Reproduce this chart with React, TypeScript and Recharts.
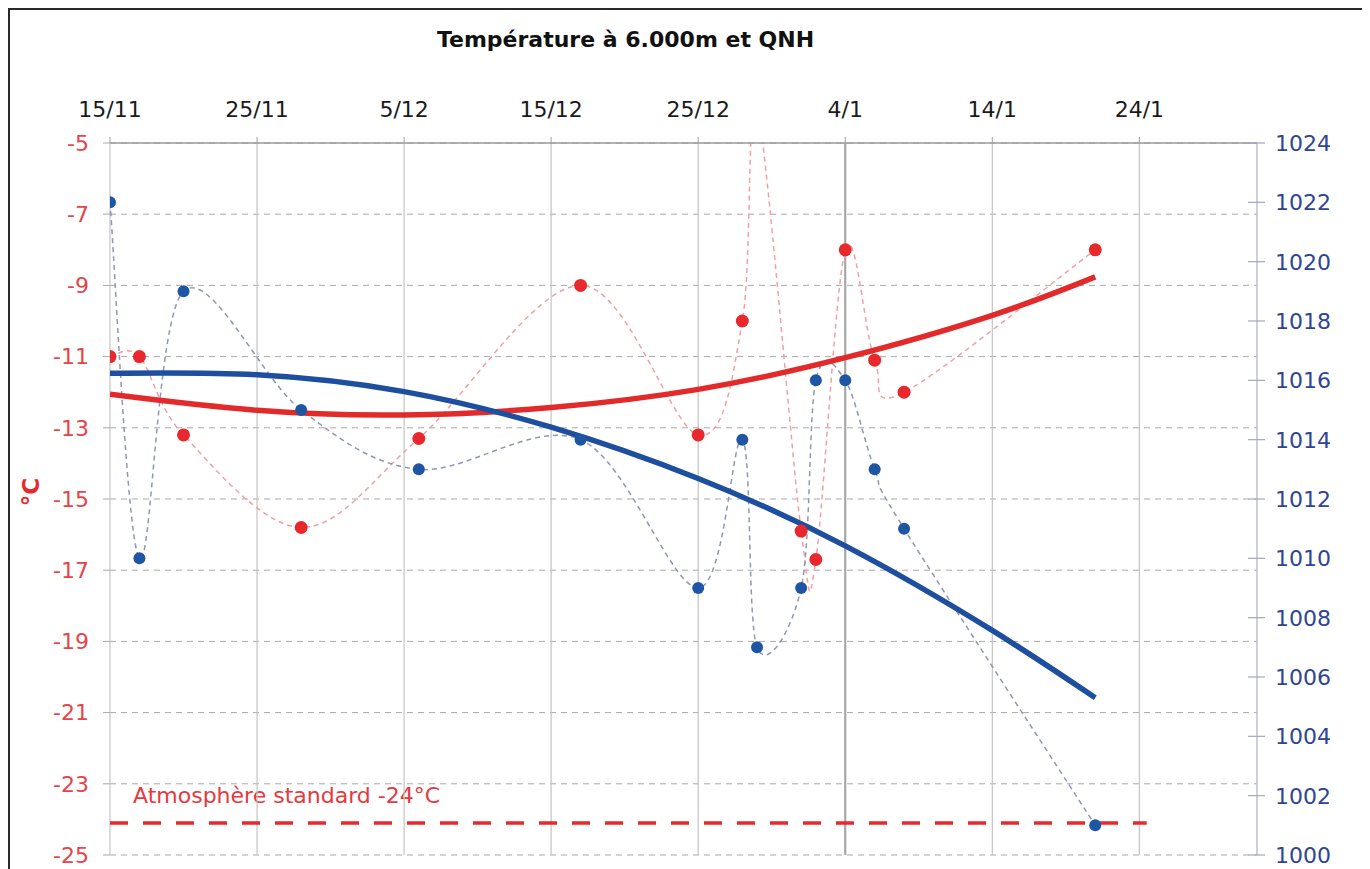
import React from 'react';
import { ComposedChart, Line, XAxis, YAxis, CartesianGrid, ReferenceLine } from 'recharts';

// ---- data (days counted from 15/11) ----
const xTickDays = [0, 10, 20, 30, 40, 50, 60, 70];
const xTickLabels = ['15/11', '25/11', '5/12', '15/12', '25/12', '4/1', '14/1', '24/1'];
const tempTicks = [-25, -23, -21, -19, -17, -15, -13, -11, -9, -7, -5];
const qnhTicks = [1000, 1002, 1004, 1006, 1008, 1010, 1012, 1014, 1016, 1018, 1020, 1022, 1024];

const obsDays = [0, 2, 5, 13, 21, 32, 40, 43, 44, 47, 48, 50, 52, 54, 67];
const temperature = [-11, -11, -13.2, -15.8, -13.3, -9, -13.2, -10, -4, -15.9, -16.7, -8, -11.1, -12, -8];
const qnh = [1022, 1010, 1019, 1015, 1013, 1014, 1009, 1014, 1007, 1009, 1016, 1016, 1013, 1011, 1001];

const trendDays = [0, 10, 20, 30, 40, 50, 60, 67];
const tempTrend = [-12.06, -12.51, -12.64, -12.43, -11.92, -11.03, -9.84, -8.76];
const qnhTrend = [1016.24, 1016.19, 1015.62, 1014.42, 1012.69, 1010.42, 1007.57, 1005.3];

const standardDays = [0, 70.5];
const standardTemp = -24.1;

const obsData = obsDays.map((d, i) => ({ day: d, temp: temperature[i], qnh: qnh[i] }));
const trendData = trendDays.map((d, i) => ({ day: d, temp: tempTrend[i], qnh: qnhTrend[i] }));
const standardData = standardDays.map((d) => ({ day: d, std: standardTemp }));

const RED = '#e8282c';
const BLUE = '#1f56a4';
const FONT = 'DejaVu Sans';

// Excel-like smoothed line (Catmull-Rom through the points)
function smoothCurve(context: any) {
  let pts: number[][] = [];
  return {
    areaStart() {},
    areaEnd() {},
    lineStart() {
      pts = [];
    },
    point(x: number, y: number) {
      pts.push([+x, +y]);
    },
    lineEnd() {
      const n = pts.length;
      if (!n) return;
      context.moveTo(pts[0][0], pts[0][1]);
      for (let i = 0; i < n - 1; i++) {
        const p0 = pts[i - 1] || pts[i];
        const p1 = pts[i];
        const p2 = pts[i + 1];
        const p3 = pts[i + 2] || pts[i + 1];
        context.bezierCurveTo(
          p1[0] + (p2[0] - p0[0]) / 6,
          p1[1] + (p2[1] - p0[1]) / 6,
          p2[0] - (p3[0] - p1[0]) / 6,
          p2[1] - (p3[1] - p1[1]) / 6,
          p2[0],
          p2[1]
        );
      }
    },
  };
}

const RightTick = (props: any) => {
  const { x, y, payload } = props;
  const ax = x - 18;
  return (
    <g>
      <line x1={ax - 9} x2={ax + 8} y1={y} y2={y} stroke="#a3a7ba" strokeWidth={1.2} />
      <text x={x} y={y} dy="0.36em" fill="#2f4592" fontSize={22} fontFamily={FONT} textAnchor="start">
        {payload.value}
      </text>
    </g>
  );
};

export default function App() {
  return (
    <div
      style={{
        position: 'relative',
        width: 1355,
        height: 875,
        border: '2px solid #2a2a2a',
        background: '#fff',
        fontFamily: FONT,
      }}
    >
      <div
        style={{
          position: 'absolute',
          left: 615.5,
          top: 19,
          transform: 'translateX(-50%)',
          whiteSpace: 'nowrap',
          fontSize: 22,
          lineHeight: 1,
          fontWeight: 'bold',
          color: '#111',
        }}
      >
        Température à 6.000m et QNH
      </div>
      <div
        style={{
          position: 'absolute',
          left: 21,
          top: 482,
          transform: 'translate(-50%, -50%) rotate(-90deg)',
          whiteSpace: 'nowrap',
          fontSize: 23,
          lineHeight: 1,
          fontWeight: 'bold',
          color: RED,
        }}
      >
        °C
      </div>
      <div
        style={{
          position: 'absolute',
          left: 123,
          top: 775,
          whiteSpace: 'nowrap',
          fontSize: 22,
          lineHeight: 1,
          color: '#e5393e',
        }}
      >
        Atmosphère standard -24°C
      </div>
      <ComposedChart width={1355} height={875} margin={{ top: 93, left: 20, right: 18, bottom: 30 }}>
        <CartesianGrid yAxisId="left" vertical={false} stroke="#a9a9a9" strokeDasharray="6 5" />
        <CartesianGrid yAxisId="left" horizontal={false} stroke="#c4c4c4" strokeWidth={1.2} />
        <XAxis
          dataKey="day"
          type="number"
          orientation="top"
          height={40}
          domain={[0, 78]}
          ticks={xTickDays}
          interval={0}
          allowDataOverflow
          tickFormatter={(v: number) => xTickLabels[xTickDays.indexOf(v)]}
          tick={{ fill: '#1a1a1a', fontSize: 22, fontFamily: FONT }}
          tickSize={6}
          tickMargin={20}
          axisLine={{ stroke: '#9a9a9a', strokeWidth: 1.5 }}
          tickLine={{ stroke: '#a0a0a0' }}
        />
        <YAxis
          yAxisId="left"
          orientation="left"
          width={80}
          domain={[-25, -5]}
          ticks={tempTicks}
          interval={0}
          allowDataOverflow
          tick={{ fill: '#e5454a', fontSize: 22, fontFamily: FONT }}
          tickSize={7}
          tickMargin={14}
          axisLine={false}
          tickLine={{ stroke: '#a9a9a9' }}
        />
        <YAxis
          yAxisId="right"
          orientation="right"
          width={90}
          domain={[1000, 1024]}
          ticks={qnhTicks}
          interval={0}
          allowDataOverflow
          tick={<RightTick />}
          tickSize={8}
          tickMargin={10}
          axisLine={{ stroke: '#c5c8d4', strokeWidth: 1.2 }}
          tickLine={false}
        />
        <ReferenceLine yAxisId="left" x={50} stroke="#a2a2a2" strokeWidth={2} />
        <Line
          data={obsData}
          yAxisId="left"
          dataKey="temp"
          type={smoothCurve as any}
          stroke="#f2a0a2"
          strokeWidth={1.5}
          strokeDasharray="5 4"
          dot={false}
          activeDot={false}
          isAnimationActive={false}
        />
        <Line
          data={obsData}
          yAxisId="right"
          dataKey="qnh"
          type={smoothCurve as any}
          stroke="#8e97b3"
          strokeWidth={1.5}
          strokeDasharray="5 4"
          dot={false}
          activeDot={false}
          isAnimationActive={false}
        />
        <Line
          data={trendData}
          yAxisId="left"
          dataKey="temp"
          type="natural"
          stroke="#e22a2b"
          strokeWidth={5.5}
          dot={false}
          activeDot={false}
          isAnimationActive={false}
        />
        <Line
          data={trendData}
          yAxisId="right"
          dataKey="qnh"
          type="natural"
          stroke="#1e4f9e"
          strokeWidth={5.5}
          dot={false}
          activeDot={false}
          isAnimationActive={false}
        />
        <Line
          data={standardData}
          yAxisId="left"
          dataKey="std"
          type="linear"
          stroke="#e8282c"
          strokeWidth={3.5}
          strokeDasharray="18 15"
          dot={false}
          activeDot={false}
          isAnimationActive={false}
        />
        <Line
          data={obsData}
          yAxisId="left"
          dataKey="temp"
          type="linear"
          stroke="none"
          dot={{ r: 6.5, fill: RED, stroke: 'none' }}
          activeDot={false}
          isAnimationActive={false}
        />
        <Line
          data={obsData}
          yAxisId="right"
          dataKey="qnh"
          type="linear"
          stroke="none"
          dot={{ r: 6, fill: BLUE, stroke: 'none' }}
          activeDot={false}
          isAnimationActive={false}
        />
      </ComposedChart>
    </div>
  );
}
